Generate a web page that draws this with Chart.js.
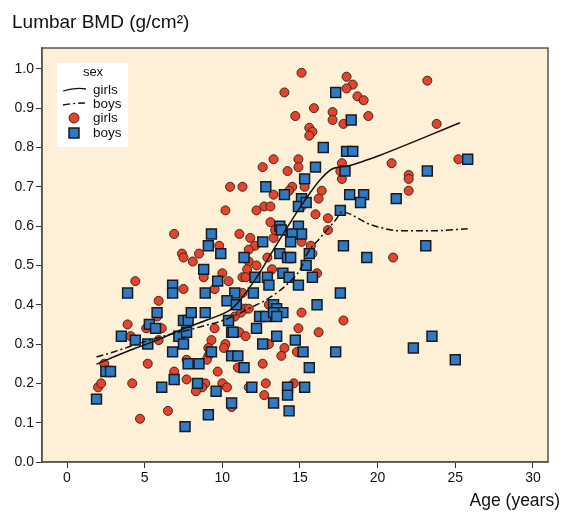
<!DOCTYPE html>
<html><head><meta charset="utf-8">
<script src="https://cdn.jsdelivr.net/npm/chart.js@4"></script>
<style>html,body{margin:0;padding:0;background:#fff;}canvas{display:block;}</style>
</head><body>
<canvas id="c" width="563" height="512"></canvas>
<script>
const xTicks = [0, 5, 10, 15, 20, 25, 30];
const yTicks = [0, 0.1, 0.2, 0.3, 0.4, 0.5, 0.6, 0.7, 0.8, 0.9, 1.0];

const girlsPoints = [
[6.9,0.58],[7.4,0.53],[7.5,0.52],[4.4,0.46],[7.5,0.44],[5.9,0.41],[5.8,0.37],[6.1,0.34],[5.1,0.34],[3.9,0.35],[4.1,0.32],[5.9,0.31],[2.4,0.25],[5.2,0.25],[6.9,0.23],[7.7,0.21],[4.2,0.20],[2.0,0.19],[2.2,0.20],[6.5,0.13],[4.7,0.11],
[11.1,0.58],[11.8,0.57],[12.1,0.55],[9.8,0.55],[13.1,0.61],[13.3,0.57],[13.4,0.59],[11.7,0.54],[8.5,0.53],[8.1,0.51],[11.7,0.51],[12.2,0.50],[12.9,0.52],[11.6,0.49],[13.2,0.49],[10.0,0.48],[11.3,0.47],[11.5,0.47],[8.8,0.47],[10.4,0.46],[9.5,0.44],[11.3,0.43],[11.3,0.39],[11.5,0.39],[11.7,0.39],[11.2,0.38],[13.0,0.40],[10.8,0.37],[9.5,0.34],[11.0,0.33],[11.1,0.33],[11.5,0.32],[9.3,0.31],
[10.2,0.30],[10.1,0.29],[9.1,0.29],[13.0,0.30],[9.1,0.27],[9.0,0.26],[7.7,0.26],[11.0,0.24],[12.6,0.25],[9.7,0.23],[10.0,0.20],[10.3,0.19],[8.9,0.20],[8.7,0.19],[8.3,0.18],[11.7,0.19],[12.8,0.20],[12.7,0.17],[10.6,0.14],
[13.3,0.77],[12.6,0.75],[10.5,0.70],[11.3,0.70],[13.3,0.68],[10.2,0.64],[12.2,0.64],[12.7,0.65],[13.1,0.65],
[15.1,0.99],[14.0,0.94],[18.0,0.98],[18.4,0.96],[18.0,0.95],[18.7,0.93],[19.1,0.92],[19.4,0.88],[15.9,0.90],[17.1,0.89],[14.7,0.88],[17.1,0.87],[17.8,0.86],[15.6,0.85],[15.8,0.84],[15.6,0.83],[14.9,0.77],[14.9,0.75],[14.2,0.74],[17.7,0.76],[17.6,0.74],[17.7,0.72],
[14.5,0.70],[15.3,0.70],[14.3,0.69],[16.4,0.69],[16.2,0.67],[15.1,0.65],[16.0,0.63],[16.8,0.62],[16.8,0.59],[14.3,0.58],[15.1,0.56],[15.7,0.55],[15.8,0.53],[16.1,0.48],
[15.1,0.38],[17.8,0.36],[14.9,0.34],[16.2,0.33],[14.0,0.29],[14.8,0.28],[13.8,0.27],[14.6,0.20],
[23.2,0.97],[23.8,0.86],[20.9,0.76],[22.0,0.73],[22.0,0.72],[22.0,0.69],[25.2,0.77],[21.0,0.52]
];

const boysPoints = [
[6.8,0.45],[6.8,0.43],[3.9,0.43],[5.8,0.38],[5.3,0.35],[5.7,0.34],[3.5,0.32],[4.4,0.31],[5.2,0.30],[7.2,0.32],[7.5,0.30],[7.5,0.36],[7.8,0.36],[6.8,0.28],[7.8,0.25],[2.5,0.23],[2.8,0.23],[6.9,0.21],[6.1,0.19],[1.9,0.16],[7.6,0.09],
[9.3,0.58],[9.1,0.55],[9.9,0.53],[11.4,0.52],[12.6,0.56],[8.8,0.49],[12.1,0.47],[12.9,0.47],[13.0,0.45],[9.7,0.46],[8.9,0.43],[10.8,0.43],[12.0,0.43],[10.3,0.41],[10.9,0.40],[8.0,0.38],[8.9,0.38],[10.4,0.36],[12.4,0.37],[12.8,0.37],[13.3,0.40],[13.5,0.39],[12.2,0.34],[7.7,0.33],[10.6,0.33],[10.7,0.33],[13.7,0.60],[13.7,0.53],
[12.6,0.30],[13.5,0.32],[9.3,0.28],[10.6,0.27],[11.0,0.27],[11.4,0.24],[8.5,0.25],[8.4,0.20],[9.6,0.18],[11.9,0.19],[10.6,0.15],[13.3,0.15],[9.1,0.12],
[12.8,0.70],
[17.3,0.94],[18.3,0.87],[16.5,0.80],[18.0,0.79],[18.4,0.79],[16.0,0.75],[17.9,0.74],[15.3,0.72],
[14.0,0.68],[15.1,0.67],[14.9,0.65],[15.4,0.66],[18.2,0.68],[19.1,0.68],[18.9,0.66],[17.6,0.64],[14.9,0.60],[15.1,0.58],[13.8,0.59],[14.5,0.58],[14.4,0.56],[17.8,0.55],[14.2,0.52],[14.4,0.52],[15.6,0.53],[19.3,0.52],[15.4,0.50],[13.9,0.48],[14.3,0.47],[15.8,0.47],
[14.9,0.45],[17.6,0.43],[16.1,0.40],[13.9,0.38],[13.3,0.38],[13.5,0.37],[14.7,0.31],[15.2,0.28],[17.3,0.28],[15.6,0.24],[14.2,0.19],[15.3,0.19],
[14.2,0.17],[14.3,0.13],
[25.8,0.77],[23.2,0.74],[21.2,0.67],[23.1,0.55],[23.5,0.32],[22.3,0.29],[25.0,0.26]
];

const girlsFitAge = [1.9,4.1,5.8,7.3,9.0,10.5,11.0,12.4,13.2,14.2,15.2,16.3,17.1,18.1,19.3,20.2,25.3];
const girlsFitBmd = [0.249,0.285,0.310,0.336,0.361,0.387,0.405,0.481,0.534,0.598,0.659,0.718,0.746,0.753,0.768,0.781,0.863];
const boysFitAge = [1.9,3.0,5.3,8.6,10.1,11.8,12.8,13.5,14.2,15.0,15.5,16.3,17.3,17.7,18.2,19.4,20.3,21.4,23.3,25.8];
const boysFitBmd = [0.267,0.280,0.310,0.344,0.361,0.392,0.412,0.430,0.453,0.489,0.532,0.570,0.616,0.636,0.631,0.606,0.595,0.588,0.588,0.593];

const FONT = '"Liberation Sans", Arial, Helvetica, sans-serif';
const RED = '#E8412C';
const BLUE = '#2F7AC4';
const BEIGE = '#FDF0D6';

const toXY = arr => arr.map(p => ({x: p[0], y: p[1]}));
const zip = (a, b) => a.map((v, i) => ({x: v, y: b[i]}));

const decor = {
  id: 'decor',
  beforeDraw(chart) {
    const {ctx, chartArea: a} = chart;
    ctx.save();
    ctx.fillStyle = '#ffffff';
    ctx.fillRect(0, 0, chart.width, chart.height);
    ctx.fillStyle = BEIGE;
    ctx.fillRect(a.left, a.top, a.right - a.left, a.bottom - a.top);
    ctx.restore();
  },
  afterDraw(chart) {
    const {ctx, chartArea: a} = chart;
    ctx.save();
    ctx.strokeStyle = '#555';
    ctx.lineWidth = 1.5;
    ctx.strokeRect(a.left, a.top, a.right - a.left, a.bottom - a.top);
    // titles
    ctx.fillStyle = '#111';
    ctx.font = '19px ' + FONT;
    ctx.textAlign = 'left';
    ctx.textBaseline = 'alphabetic';
    ctx.fillText('Lumbar BMD (g/cm²)', 12, 28);
    ctx.font = '17.5px ' + FONT;
    ctx.textAlign = 'right';
    ctx.fillText('Age (years)', 560, 506);
    // legend
    const lx = 57, ly = 63, lw = 71, lh = 84;
    ctx.fillStyle = '#ffffff';
    ctx.fillRect(lx, ly, lw, lh);
    ctx.fillStyle = '#111';
    ctx.font = '13px ' + FONT;
    ctx.textAlign = 'center';
    ctx.textBaseline = 'middle';
    ctx.fillText('sex', 93, 72);
    ctx.font = '13.5px ' + FONT;
    ctx.textAlign = 'left';
    const rows = [90, 104, 118, 133];
    const labels = ['girls', 'boys', 'girls', 'boys'];
    labels.forEach((t, i) => ctx.fillText(t, 93, rows[i]));
    ctx.strokeStyle = '#111';
    ctx.lineWidth = 1.3;
    ctx.beginPath();
    ctx.moveTo(63, 91);
    ctx.quadraticCurveTo(75, 87, 86, 89);
    ctx.stroke();
    ctx.setLineDash([7, 3, 2, 3]);
    ctx.beginPath();
    ctx.moveTo(63, 105);
    ctx.quadraticCurveTo(75, 103, 86, 103);
    ctx.stroke();
    ctx.setLineDash([]);
    ctx.fillStyle = RED;
    ctx.strokeStyle = '#3a2a20';
    ctx.lineWidth = 1;
    ctx.beginPath();
    ctx.arc(74, 118, 5, 0, Math.PI * 2);
    ctx.fill(); ctx.stroke();
    ctx.fillStyle = BLUE;
    ctx.strokeStyle = '#1a1a1a';
    ctx.lineWidth = 1.5;
    ctx.fillRect(69, 128, 10, 10);
    ctx.strokeRect(69, 128, 10, 10);
    ctx.restore();
  }
};

new Chart(document.getElementById('c'), {
  type: 'scatter',
  data: {
    datasets: [
      {label: 'girls fit', data: zip(girlsFitAge, girlsFitBmd), showLine: true, pointRadius: 0,
       borderColor: '#111', borderWidth: 1.5, cubicInterpolationMode: 'monotone', order: 0},
      {label: 'boys fit', data: zip(boysFitAge, boysFitBmd), showLine: true, pointRadius: 0,
       borderColor: '#111', borderWidth: 1.5, borderDash: [7, 3, 2, 3], cubicInterpolationMode: 'monotone', order: 1},
      {label: 'girls', data: toXY(girlsPoints), pointStyle: 'circle', pointRadius: 4.5,
       backgroundColor: RED, borderColor: '#3a2a20', borderWidth: 1, order: 3},
      {label: 'boys', data: toXY(boysPoints), pointStyle: 'rect', pointRadius: 7,
       backgroundColor: BLUE, borderColor: '#1a1a1a', borderWidth: 1.5, order: 2}
    ]
  },
  options: {
    responsive: false,
    animation: false,
    events: [],
    layout: {padding: {top: 48, right: 15, left: 0, bottom: 0}},
    plugins: {legend: {display: false}, tooltip: {enabled: false}},
    scales: {
      x: {
        type: 'linear', min: -1.61, max: 30.97,
        afterBuildTicks: s => { s.ticks = xTicks.map(v => ({value: v})); },
        afterFit: s => { s.height = 50; },
        ticks: {font: {size: 14, family: FONT}, color: '#111', padding: 2},
        grid: {drawOnChartArea: false, drawTicks: true, tickLength: 6, color: '#333', lineWidth: 1},
        border: {display: true, color: '#555', width: 1.5}
      },
      y: {
        type: 'linear', min: 0, max: 1.053,
        afterBuildTicks: s => { s.ticks = yTicks.map(v => ({value: v})); },
        afterFit: s => { s.width = 42; },
        ticks: {font: {size: 14, family: FONT}, color: '#111', padding: 2, callback: v => v.toFixed(1)},
        grid: {drawOnChartArea: false, drawTicks: true, tickLength: 6, color: '#333', lineWidth: 1},
        border: {display: true, color: '#555', width: 1.5}
      }
    }
  },
  plugins: [decor]
});
</script>
</body></html>
